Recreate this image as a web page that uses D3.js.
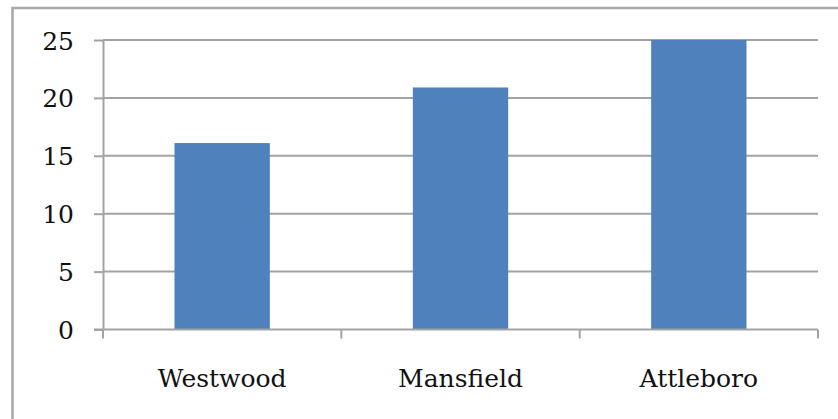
<!DOCTYPE html>
<html>
<head>
<meta charset="utf-8">
<script src="https://cdn.jsdelivr.net/npm/d3@7/dist/d3.min.js"></script>
<style>
  html, body { margin: 0; padding: 0; background: #fff; }
  svg { display: block; }
  text { font-family: "DejaVu Serif", "Liberation Serif", serif; fill: #111; }
</style>
</head>
<body>
<svg id="chart" width="838" height="419"></svg>
<script>
// Values per town
const categories = ["Westwood", "Mansfield", "Attleboro"];
const values = [16.1, 20.9, 25];
const yTicks = [0, 5, 10, 15, 20, 25];

const W = 838, H = 419;
const margin = { left: 103, right: 20, top: 40, bottom: 89.5 };
const gridColor = "#a3a3a3";
const barColor = "#4f81bd";
const fontSize = 25;

const svg = d3.select("#chart");

// chart frame (runs past the right and bottom edges)
svg.append("rect")
  .attr("x", 12.5).attr("y", 8)
  .attr("width", W + 20).attr("height", H + 20)
  .attr("fill", "#fff")
  .attr("stroke", "#a8a8a8")
  .attr("stroke-width", 2.5);

const x = d3.scaleBand()
  .domain(categories)
  .range([margin.left, W - margin.right])
  .padding(0);

const y = d3.scaleLinear()
  .domain([0, 25])
  .range([H - margin.bottom, margin.top]);

// horizontal gridlines
svg.append("g")
  .selectAll("line")
  .data(yTicks.filter(d => d > 0))
  .join("line")
  .attr("x1", margin.left).attr("x2", W - margin.right)
  .attr("y1", d => y(d)).attr("y2", d => y(d))
  .attr("stroke", gridColor).attr("stroke-width", 2);

// bars: 40% of each category band, centred
const barFrac = 0.4;
svg.append("g")
  .selectAll("rect")
  .data(values)
  .join("rect")
  .attr("x", (d, i) => x(categories[i]) + x.bandwidth() * (1 - barFrac) / 2)
  .attr("width", x.bandwidth() * barFrac)
  .attr("y", d => y(d))
  .attr("height", d => y(0) - y(d))
  .attr("fill", barColor);

// y axis
const yAxis = svg.append("g")
  .attr("transform", `translate(${margin.left},0)`)
  .call(d3.axisLeft(y).tickValues(yTicks).tickSize(9).tickPadding(20).tickSizeOuter(0));
yAxis.select(".domain").attr("stroke", gridColor).attr("stroke-width", 2);
yAxis.selectAll(".tick line").attr("stroke", gridColor).attr("stroke-width", 2);
yAxis.selectAll(".tick text")
  .attr("font-size", fontSize)
  .attr("font-family", "DejaVu Serif")
  .attr("fill", "#111")
  .attr("dy", "0.36em");

// x axis with ticks at category boundaries
const xAxisG = svg.append("g")
  .attr("transform", `translate(0,${y(0)})`);
xAxisG.append("line")
  .attr("x1", margin.left - 9).attr("x2", W - margin.right)
  .attr("stroke", gridColor).attr("stroke-width", 2);
const bounds = categories.map(c => x(c)).concat([x(categories[categories.length - 1]) + x.bandwidth()]);
xAxisG.selectAll("line.tk")
  .data(bounds)
  .join("line")
  .attr("class", "tk")
  .attr("x1", d => d).attr("x2", d => d)
  .attr("y1", 0).attr("y2", 9)
  .attr("stroke", gridColor).attr("stroke-width", 2);
xAxisG.selectAll("text")
  .data(categories)
  .join("text")
  .attr("x", d => x(d) + x.bandwidth() / 2)
  .attr("y", 57)
  .attr("text-anchor", "middle")
  .attr("font-size", fontSize)
  .text(d => d);
</script>
</body>
</html>
